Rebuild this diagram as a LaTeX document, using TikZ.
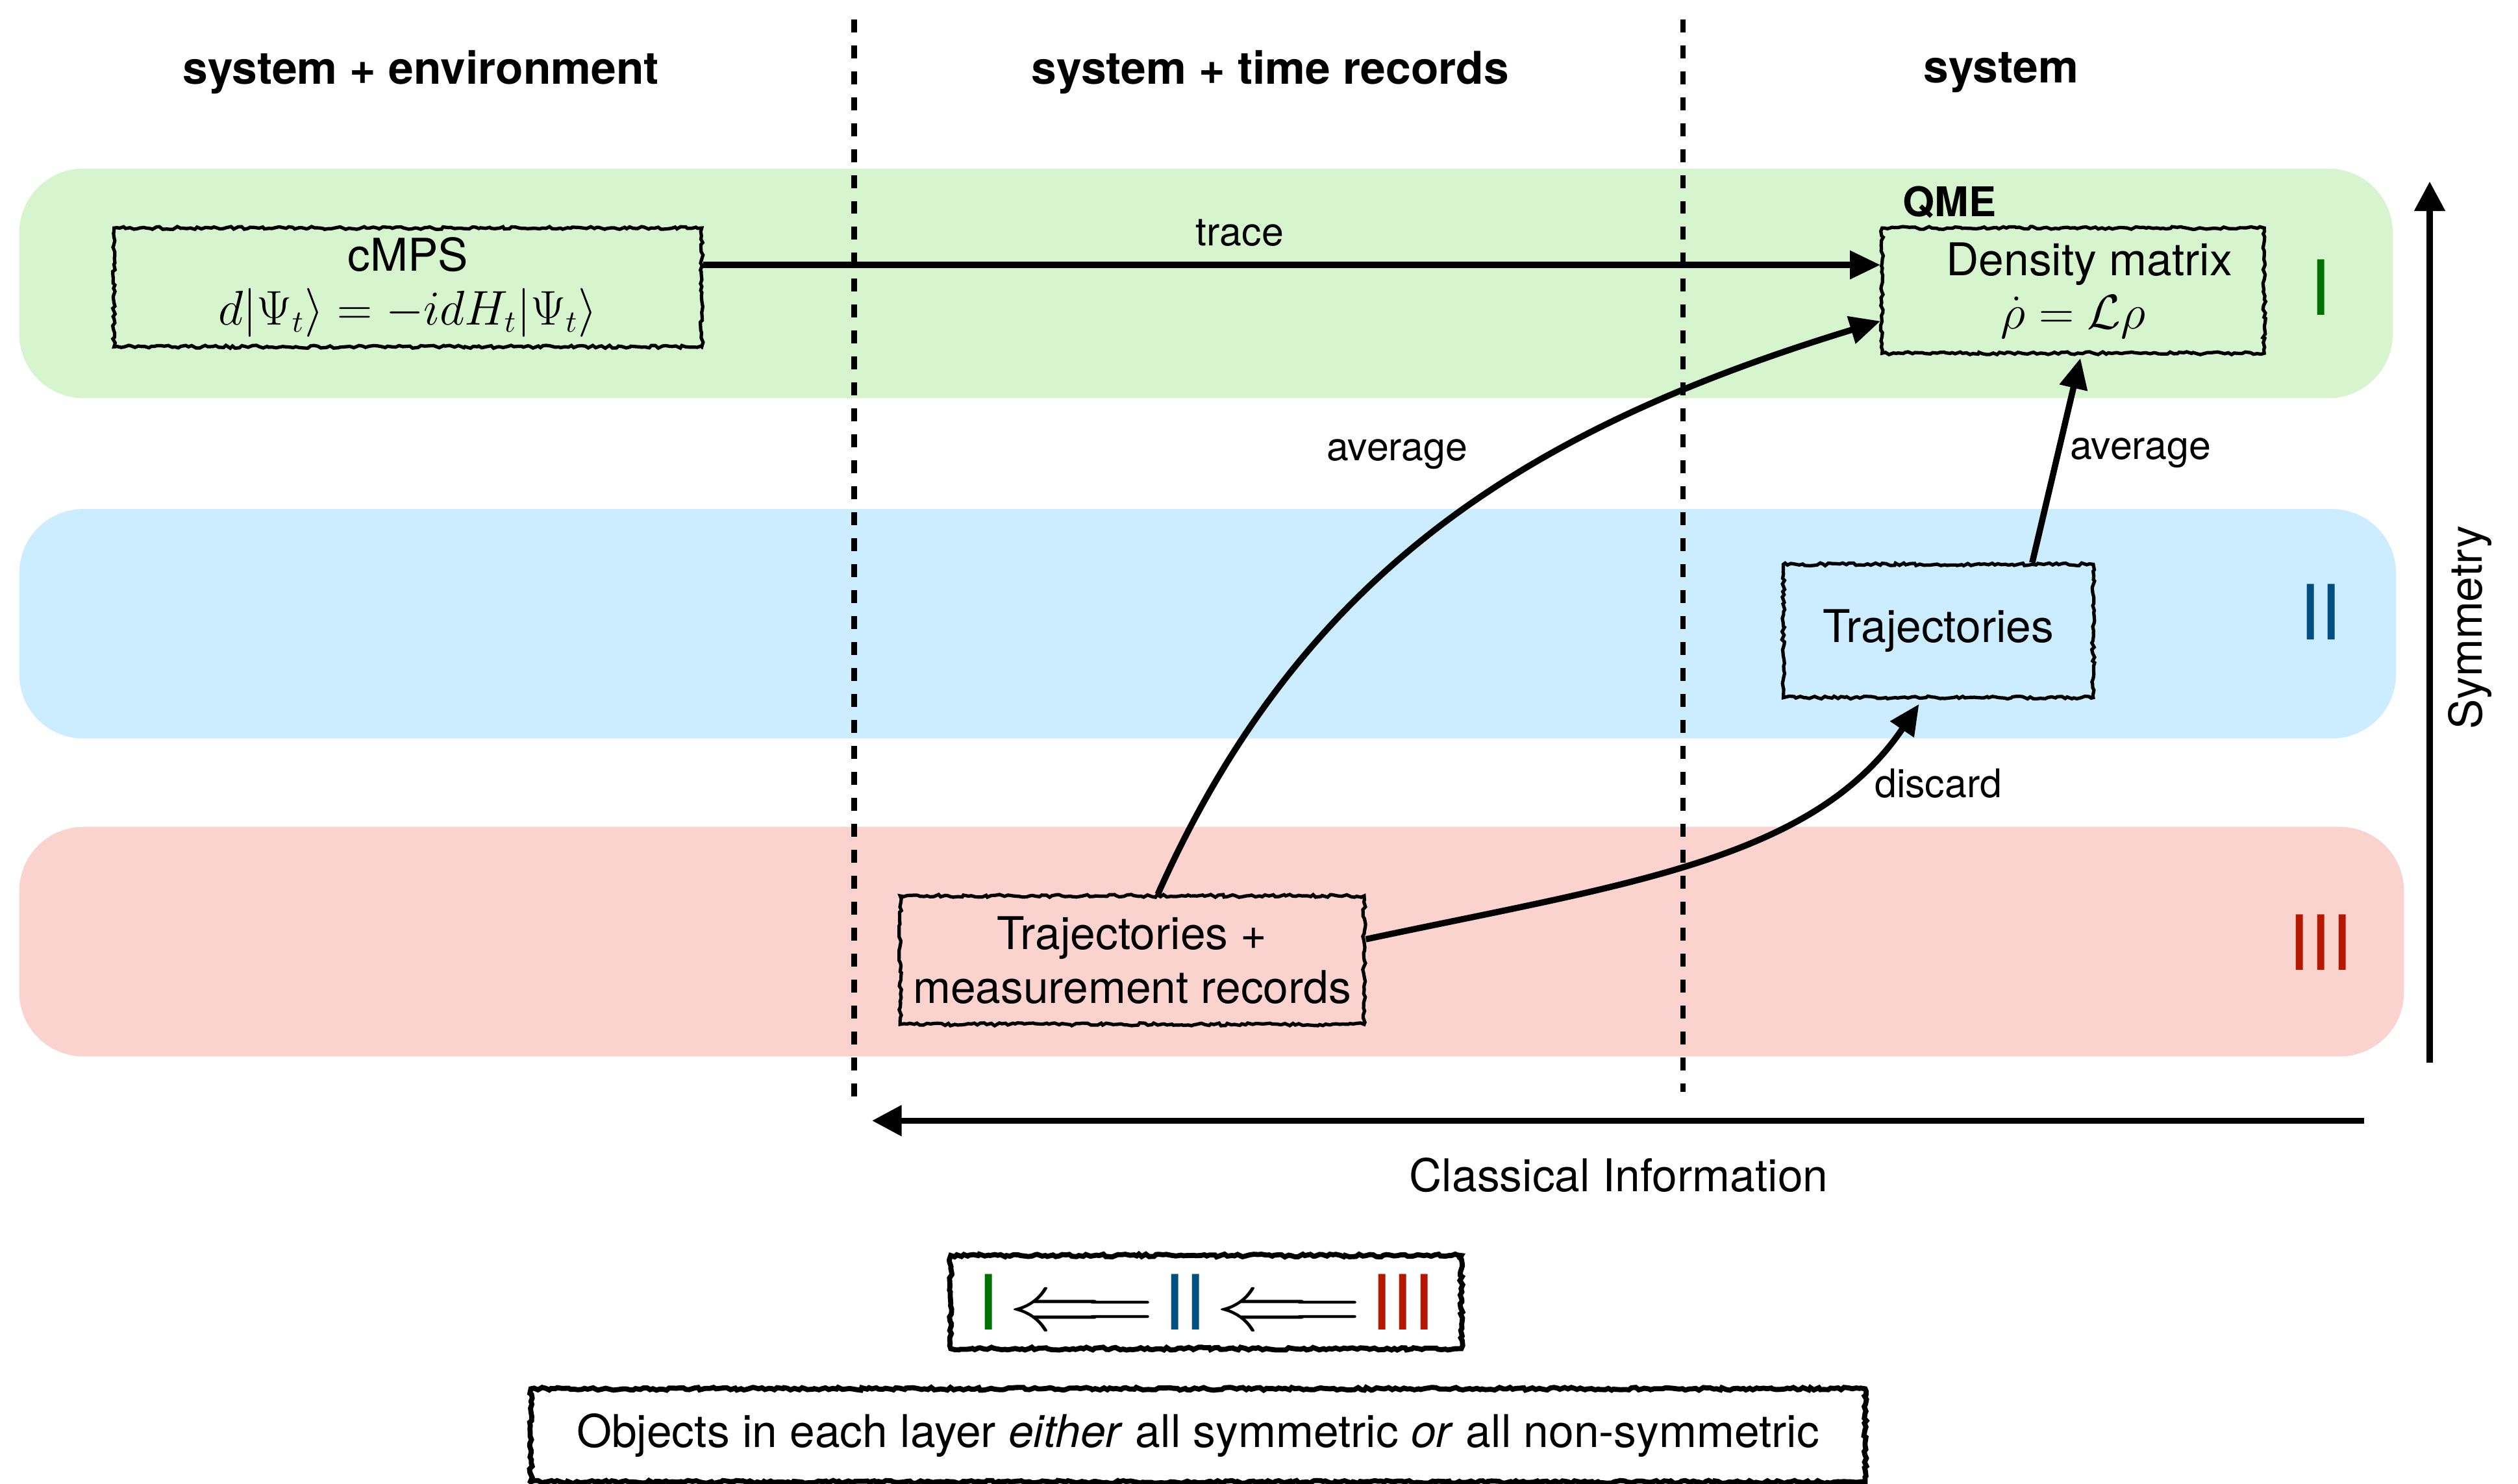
\documentclass[tikz,border=0pt]{standalone}
\usepackage{amssymb,amsmath}
\usepackage{graphicx}
\usepackage[no-math]{fontspec}
\setmainfont{TeX Gyre Heros}
\usetikzlibrary{arrows.meta}
\usetikzlibrary{decorations.pathmorphing}

\definecolor{bandgreen}{RGB}{214,245,206}
\definecolor{bandblue}{RGB}{204,236,255}
\definecolor{bandred}{RGB}{250,210,206}
\definecolor{numgreen}{RGB}{0,112,0}
\definecolor{numblue}{RGB}{0,79,128}
\definecolor{numred}{RGB}{181,24,0}

\newcommand{\implied}{\hspace{3.5pt}\scalebox{1.33}[1.15]{$\Longleftarrow$}\hspace{3.5pt}}

\tikzset{
  rough/.style={draw, line width=1.2pt, decorate,
    decoration={random steps, segment length=1.2pt, amplitude=0.5pt},
    align=center, inner sep=0pt, font=\fontsize{16}{19}\selectfont},
  legendbox/.style={rough, line width=1.8pt},
  band/.style={rounded corners=0.8cm},
  conn/.style={line width=2.2pt, -{Triangle[length=0.38cm, width=0.34cm]}},
  axisarrow/.style={line width=2.2pt, -{Triangle[length=0.37cm, width=0.37cm]}},
  sep/.style={line width=2pt, dash pattern=on 4.6pt off 4.6pt},
  lbl/.style={font=\fontsize{14}{16}\selectfont},
  hdr/.style={font=\fontsize{16}{19}\selectfont\bfseries},
  layer/.style={font=\fontsize{27}{30}\selectfont, inner sep=0pt},
}

\begin{document}
\begin{tikzpicture}[x=0.02cm, y=0.02cm]
\pgfmathsetseed{7}
\useasboundingbox (0,0) rectangle (1568,924);

% layers
\fill[band, bandgreen] (12,676) rectangle (1490,819);
\fill[band, bandblue]  (12,464) rectangle (1492,607);
\fill[band, bandred]   (12,266) rectangle (1497,409);

% separators
\draw[sep] (532,912) -- (532,236);
\draw[sep] (1048,912) -- (1048,244);

\node[hdr] (hdrenv) at (262,879) {system + environment};
\node[hdr] (hdrrec) at (791,879) {system + time records};
\node[hdr] (hdrsys) at (1246,879) {system};

\node[rough, minimum width=7.32cm, minimum height=1.48cm] (cmps) at (254,745)
  {cMPS\\ $d|\Psi_t\rangle = -idH_t|\Psi_t\rangle$};
\node[rough, minimum width=4.76cm, minimum height=1.56cm] (dens) at (1291,743)
  {\hspace*{0.4cm}Density matrix\\ $\dot{\rho} = \mathcal{L}\rho$};
\node[font=\fontsize{14.5}{17}\selectfont\bfseries] (qme) at (1214,798) {QME};
\node[rough, minimum width=3.86cm, minimum height=1.66cm] (traj) at (1207,531) {Trajectories};
\node[rough, minimum width=5.78cm, minimum height=1.6cm] (trajrec) at (705,326)
  {Trajectories +\\ measurement records};

\node[layer, text=numgreen] (lyone) at (1445,745) {I};
\node[layer, text=numblue] (lytwo) at (1445,543) {II};
\node[layer, text=numred] (lythree) at (1445,337) {III};

% connectors
\draw[conn] ([yshift=0.28cm]cmps.east) -- ([yshift=0.28cm]cmps.east -| dens.west);
\draw[conn] ([xshift=0.32cm]trajrec.north) to[out=66, in=197] ([yshift=-0.38cm]dens.west);
\draw[conn] ([xshift=1.17cm]traj.north) -- ([xshift=0.09cm, yshift=-0.04cm]dens.south);
\draw[conn] ([yshift=0.26cm]trajrec.east) to[out=12, in=236, out looseness=1.14, in looseness=0.8] ([xshift=-0.24cm, yshift=-0.06cm]traj.south);

\node[lbl] (lbltrace) at (772,779) {trace};
\node[lbl] (lblavgl) at (870,641) {average};
\node[lbl] (lblavgr) at (1333,642) {average};
\node[lbl] (lbldisc) at (1207,436) {discard};

% axes
\coordinate (symlo) at (1513,262);
\coordinate (symhi) at (1513,811);
\draw[axisarrow] (symlo) -- (symhi);
\node[font=\fontsize{16}{19}\selectfont, rotate=90] (symlbl) at (1538,533) {Symmetry};

\coordinate (clsright) at (1472,226);
\coordinate (clsleft) at (543,226);
\draw[axisarrow] (clsright) -- (clsleft);
\node[font=\fontsize{16}{19}\selectfont] (clslbl) at (1008,192) {Classical Information};

% legend
\node[legendbox, minimum width=6.36cm, minimum height=1.16cm, font=\fontsize{27}{30}\selectfont] (order) at (751,113)
  {\textcolor{numgreen}{I}\implied\textcolor{numblue}{II}\implied\textcolor{numred}{III}};
\node[legendbox, minimum width=16.62cm, minimum height=1.16cm] (note) at (746,30)
  {Objects in each layer \emph{either} all symmetric \emph{or} all non-symmetric};

\end{tikzpicture}
\end{document}
